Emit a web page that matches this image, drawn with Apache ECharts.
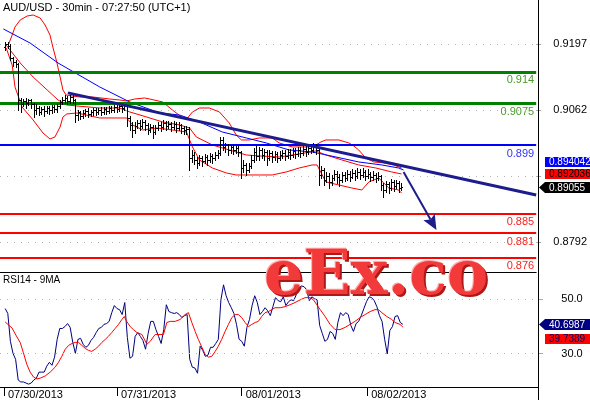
<!DOCTYPE html>
<html><head><meta charset="utf-8">
<script src="https://cdn.jsdelivr.net/npm/echarts@6/dist/echarts.min.js"></script>
<style>html,body{margin:0;padding:0;background:#fff}#c{width:590px;height:400px}</style>
</head><body><div id="c"></div>
<script>
const titleText = 'AUD/USD - 30min - 07:27:50 (UTC+1)';
const rsiTitle = 'RSI14 - 9MA';
// OHLC bars: [open, high, low, close], one per 30-min bar
const ohlc = [
[0.91909,0.92011,0.91847,0.91970],[0.91970,0.92011,0.91888,0.91929],[0.91929,0.91970,0.91643,0.91684],[0.91684,0.91704,0.91520,0.91602],
[0.91602,0.91643,0.91500,0.91561],[0.91561,0.91582,0.90620,0.90825],[0.90825,0.90866,0.90580,0.90743],[0.90743,0.90845,0.90702,0.90805],
[0.90805,0.90866,0.90661,0.90764],[0.90764,0.90845,0.90723,0.90825],[0.90825,0.90845,0.90661,0.90743],[0.90743,0.90764,0.90477,0.90620],
[0.90620,0.90743,0.90539,0.90661],[0.90661,0.90702,0.90518,0.90580],[0.90580,0.90682,0.90539,0.90641],[0.90641,0.90702,0.90498,0.90600],
[0.90600,0.90702,0.90559,0.90661],[0.90661,0.90702,0.90539,0.90620],[0.90620,0.90723,0.90559,0.90682],[0.90682,0.90723,0.90580,0.90641],
[0.90641,0.90743,0.90580,0.90702],[0.90702,0.90825,0.90661,0.90784],[0.90784,0.90886,0.90743,0.90825],[0.90825,0.90927,0.90764,0.90866],
[0.90866,0.90907,0.90743,0.90805],[0.90805,0.90927,0.90764,0.90886],[0.90886,0.90947,0.90764,0.90825],[0.90825,0.90845,0.90375,0.90518],
[0.90518,0.90620,0.90416,0.90580],[0.90580,0.90600,0.90436,0.90498],[0.90498,0.90620,0.90457,0.90559],[0.90559,0.90641,0.90498,0.90600],
[0.90600,0.90661,0.90477,0.90539],[0.90539,0.90620,0.90498,0.90580],[0.90580,0.90661,0.90518,0.90620],[0.90620,0.90661,0.90518,0.90580],
[0.90580,0.90661,0.90539,0.90620],[0.90620,0.90682,0.90518,0.90580],[0.90580,0.90682,0.90539,0.90641],[0.90641,0.90682,0.90539,0.90600],
[0.90600,0.90702,0.90559,0.90661],[0.90661,0.90702,0.90580,0.90620],[0.90620,0.90723,0.90580,0.90682],[0.90682,0.90723,0.90580,0.90641],
[0.90641,0.90743,0.90600,0.90702],[0.90702,0.90743,0.90580,0.90661],[0.90661,0.90743,0.90620,0.90702],[0.90702,0.90723,0.90293,0.90457],
[0.90457,0.90498,0.90211,0.90314],[0.90314,0.90375,0.90068,0.90211],[0.90211,0.90375,0.90150,0.90293],[0.90293,0.90416,0.90252,0.90355],
[0.90355,0.90416,0.90211,0.90293],[0.90293,0.90436,0.90252,0.90375],[0.90375,0.90416,0.90211,0.90314],[0.90314,0.90355,0.90130,0.90211],
[0.90211,0.90334,0.90171,0.90273],[0.90273,0.90314,0.90048,0.90171],[0.90171,0.90314,0.90130,0.90252],[0.90252,0.90375,0.90211,0.90314],
[0.90314,0.90375,0.90191,0.90273],[0.90273,0.90416,0.90232,0.90355],[0.90355,0.90396,0.90211,0.90293],[0.90293,0.90396,0.90252,0.90334],
[0.90334,0.90375,0.90191,0.90273],[0.90273,0.90396,0.90232,0.90334],[0.90334,0.90375,0.90171,0.90252],[0.90252,0.90375,0.90211,0.90314],
[0.90314,0.90334,0.90150,0.90252],[0.90252,0.90293,0.90130,0.90211],[0.90211,0.90293,0.90130,0.90232],[0.90232,0.90273,0.89393,0.89639],
[0.89639,0.89802,0.89557,0.89700],[0.89700,0.89762,0.89516,0.89598],[0.89598,0.89659,0.89434,0.89537],[0.89537,0.89700,0.89496,0.89639],
[0.89639,0.89680,0.89475,0.89578],[0.89578,0.89721,0.89537,0.89659],[0.89659,0.89700,0.89496,0.89598],[0.89598,0.89741,0.89557,0.89680],
[0.89680,0.89721,0.89537,0.89639],[0.89639,0.89762,0.89598,0.89700],[0.89700,0.89802,0.89639,0.89741],[0.89741,0.90068,0.89700,0.90007],
[0.90007,0.90068,0.89802,0.89864],[0.89864,0.89946,0.89762,0.89905],[0.89905,0.89925,0.89700,0.89802],[0.89802,0.89905,0.89741,0.89864],
[0.89864,0.89905,0.89721,0.89802],[0.89802,0.89884,0.89741,0.89843],[0.89843,0.89884,0.89680,0.89762],[0.89762,0.89782,0.89230,0.89434],
[0.89434,0.89598,0.89353,0.89496],[0.89496,0.89537,0.89291,0.89393],[0.89393,0.89537,0.89353,0.89475],[0.89475,0.89700,0.89434,0.89598],
[0.89598,0.89843,0.89557,0.89762],[0.89762,0.89884,0.89598,0.89680],[0.89680,0.89864,0.89598,0.89802],[0.89802,0.89843,0.89639,0.89700],
[0.89700,0.89823,0.89598,0.89762],[0.89762,0.89802,0.89496,0.89639],[0.89639,0.89802,0.89598,0.89741],[0.89741,0.89782,0.89557,0.89659],
[0.89659,0.89782,0.89598,0.89721],[0.89721,0.89762,0.89557,0.89639],[0.89639,0.89782,0.89598,0.89700],[0.89700,0.89802,0.89639,0.89741],
[0.89741,0.89802,0.89598,0.89680],[0.89680,0.89823,0.89639,0.89762],[0.89762,0.89823,0.89618,0.89700],[0.89700,0.89843,0.89659,0.89782],
[0.89782,0.89843,0.89639,0.89721],[0.89721,0.89864,0.89680,0.89802],[0.89802,0.89864,0.89659,0.89741],[0.89741,0.89884,0.89700,0.89823],
[0.89823,0.89884,0.89680,0.89762],[0.89762,0.89905,0.89721,0.89843],[0.89843,0.89925,0.89741,0.89802],[0.89802,0.89946,0.89762,0.89884],
[0.89884,0.89925,0.89721,0.89802],[0.89802,0.89823,0.89087,0.89291],[0.89291,0.89475,0.89230,0.89393],[0.89393,0.89434,0.89087,0.89189],
[0.89189,0.89353,0.89148,0.89271],[0.89271,0.89332,0.89025,0.89148],[0.89148,0.89291,0.89087,0.89230],[0.89230,0.89393,0.89189,0.89312],
[0.89312,0.89373,0.89128,0.89250],[0.89250,0.89312,0.89066,0.89189],[0.89189,0.89353,0.89148,0.89291],[0.89291,0.89353,0.89169,0.89230],
[0.89230,0.89393,0.89189,0.89312],[0.89312,0.89373,0.89169,0.89250],[0.89250,0.89414,0.89230,0.89332],[0.89332,0.89393,0.89189,0.89271],
[0.89271,0.89434,0.89230,0.89353],[0.89353,0.89414,0.89209,0.89291],[0.89291,0.89434,0.89250,0.89353],[0.89353,0.89393,0.89189,0.89271],
[0.89271,0.89414,0.89230,0.89312],[0.89312,0.89353,0.89169,0.89250],[0.89250,0.89373,0.89189,0.89291],[0.89291,0.89332,0.89148,0.89230],
[0.89230,0.89353,0.89189,0.89271],[0.89271,0.89291,0.88984,0.89087],[0.89087,0.89128,0.88841,0.88984],[0.88984,0.89169,0.88944,0.89107],
[0.89107,0.89148,0.88923,0.89025],[0.89025,0.89209,0.88984,0.89148],[0.89148,0.89189,0.88964,0.89066],[0.89066,0.89189,0.89025,0.89128],
[0.89128,0.89169,0.88944,0.89025],[0.89025,0.89128,0.88984,0.89055]
];
// Bollinger bands and blue moving average, read at [bar index, price]
const bbUpper = [[1.2,0.9195],[2.7,0.92154],[3.8,0.92318],[5.8,0.92461],[8.5,0.92543],[10.8,0.92563],[13.5,0.92502],[15.4,0.92359],[17.3,0.92154],[18.5,0.91888],[20,0.91582],[21.2,0.91295],[22.3,0.9103],[23.5,0.90927],[25.8,0.90907],[28.8,0.90886],[33.8,0.90886],[40.4,0.90845],[44.2,0.90825],[46.9,0.90805],[50,0.90845],[53.8,0.90866],[55.8,0.90845],[60.8,0.90784],[64.6,0.9062],[68.5,0.90457],[70.4,0.90457],[72.3,0.9058],[75,0.90661],[78.8,0.90661],[82.7,0.9058],[86.5,0.90355],[89.2,0.90109],[91.2,0.90007],[94.2,0.90007],[98.1,0.90048],[103.1,0.90048],[105.8,0.89946],[110.8,0.89864],[117.3,0.89864],[120,0.89905],[121.9,0.89966],[123.8,0.90007],[128.8,0.90007],[132.7,0.89946],[134.6,0.89884],[136.5,0.89802],[139.2,0.89639],[142.3,0.89557],[146.2,0.89537],[150,0.89496],[153,0.89434]];
const bbMiddle = [[0,0.9197],[1.9,0.91847],[5.8,0.91582],[10.8,0.91295],[16.2,0.9103],[20.4,0.90825],[23.8,0.90723],[27.7,0.90702],[36.5,0.90661],[44.2,0.90661],[48.1,0.9058],[54.6,0.90477],[60.8,0.90375],[67.3,0.90314],[71.2,0.90252],[73.8,0.90068],[80,0.89905],[86.5,0.89802],[93.1,0.897],[98.1,0.8968],[105.8,0.89659],[113.5,0.89721],[120,0.89782],[123.8,0.897],[130,0.89598],[136.5,0.89496],[143.1,0.89434],[149.2,0.89353],[153,0.89312]];
const bbLower = [[0.4,0.91888],[2.7,0.91541],[3.8,0.91091],[6.5,0.90682],[10.8,0.90416],[14.6,0.9015],[17.3,0.90027],[19.2,0.90068],[21.2,0.90273],[22.3,0.90477],[23.8,0.90539],[27.7,0.90559],[36.5,0.90457],[46.9,0.90457],[49.2,0.90314],[53.1,0.90211],[58.5,0.90252],[64.6,0.90211],[70,0.90171],[72.3,0.89864],[75,0.89598],[80,0.89434],[85.4,0.89332],[89.2,0.89291],[94.2,0.89291],[98.1,0.89291],[103.1,0.89291],[108.5,0.89353],[113.5,0.89434],[118.5,0.89496],[120.4,0.89496],[123.8,0.89148],[128.8,0.89087],[133.8,0.89025],[137.7,0.88984],[140.4,0.89148],[144.2,0.8923],[148.1,0.89025],[151.9,0.88984],[153,0.88923]];
const maBlue = [[-0.7,0.92277],[9.6,0.91991],[20.4,0.91582],[36.5,0.91091],[48.1,0.90784],[59.6,0.90559],[67.3,0.90518],[75,0.90375],[83.8,0.90171],[93.1,0.90048],[100.8,0.89946],[109.6,0.89802],[118.5,0.89762],[127.7,0.89659],[136.5,0.89557],[145.4,0.89496],[151.9,0.89434],[153.8,0.89393]];
// horizontal levels
const levelValues = [0.914, 0.9075, 0.899, 0.885, 0.881, 0.876];
const levelLabels = ['0.914', '0.9075', '0.899', '0.885', '0.881', '0.876'];
// trend line and projection arrow [bar index, price]
const trendLine = [[24.2, 0.9097], [205, 0.8888]];
const arrowLine = [[153.8, 0.89353], [166.5, 0.88166]];
// RSI(14) per bar and its 9-period MA read at [bar index, value]
const rsi = [46.5,44.7,34.5,30.1,27.9,20.3,19.6,19.6,19.2,18.8,19.2,20.3,21.0,23.2,23.2,23.2,25.4,26.8,25.7,28.7,
35.2,39.2,39.2,39.9,41.0,39.6,34.1,30.1,35.2,35.6,33.4,32.3,33.0,34.8,35.9,37.7,39.2,39.6,40.7,41.0,
41.8,45.0,47.6,46.5,46.1,44.3,48.7,35.9,28.3,29.0,36.3,37.7,36.3,34.8,31.6,37.4,41.8,41.8,38.8,36.3,
33.7,38.8,47.9,45.4,45.0,44.7,45.0,44.3,43.2,43.9,44.3,27.9,25.0,24.7,22.8,32.7,31.2,29.0,29.4,32.3,
32.3,33.7,35.2,49.7,55.2,51.2,48.7,46.8,44.7,40.7,35.2,34.5,32.7,39.6,42.5,47.6,51.2,48.7,44.3,45.4,
46.8,45.7,43.9,47.2,50.5,49.4,49.0,50.8,47.6,49.0,49.7,49.4,51.6,54.1,54.8,54.5,53.4,49.4,50.8,50.1,
49.7,40.3,37.4,34.5,35.2,38.1,37.4,35.2,41.4,45.0,43.9,45.0,44.3,40.3,38.1,41.0,41.8,43.9,46.5,49.0,
50.8,50.5,49.4,47.2,43.9,41.8,35.2,29.9,38.5,39.9,43.6,43.9,41.4,40.6987];
const rsiMA = [[0,41.6],[0.7,41.2],[2.6,39.4],[4.5,36.1],[5.8,34.0],[7.0,30.3],[8.3,26.1],[9.6,23.2],[10.9,21.4],[12.2,20.7],[13.5,21.0],[15.4,21.8],[17.3,23.2],[19.2,25.0],[20.5,26.8],[21.8,29.0],[23.1,31.6],[24.4,33.0],[25.7,33.7],[26.9,34.1],[28.2,34.1],[29.5,33.0],[30.8,31.9],[32.0,31.2],[33.3,30.8],[34.6,31.6],[35.9,32.7],[37.2,34.1],[38.5,35.2],[39.7,36.3],[41.0,37.7],[42.3,39.2],[43.6,40.7],[44.9,42.5],[45.8,43.6],[46.8,41.7],[48.1,39.9],[49.3,38.8],[50.7,37.7],[52.6,37.0],[54.5,33.4],[55.8,34.5],[57.7,37.0],[59.6,37.0],[60.9,37.0],[62.2,41.4],[63.5,41.8],[65.4,41.8],[67.3,42.5],[69.2,44.3],[70.5,45.0],[71.8,41.4],[73.1,38.1],[74.3,35.2],[75.7,32.3],[76.9,29.7],[78.2,28.7],[79.5,29.0],[80.8,30.8],[82.0,32.7],[83.3,35.2],[84.6,38.1],[85.9,40.7],[87.2,43.2],[88.5,44.3],[89.7,44.3],[91.0,43.2],[92.3,41.4],[93.6,39.9],[94.9,40.7],[96.2,41.4],[97.4,41.8],[98.7,43.6],[100.0,45.0],[101.3,45.4],[101.9,46.1],[103.8,46.8],[105.8,46.8],[107.7,47.2],[109.6,47.9],[111.5,48.7],[113.5,49.7],[115.4,50.5],[117.3,50.5],[118.6,49.7],[119.9,47.9],[121.2,46.1],[123.1,43.6],[125.0,40.7],[126.9,38.8],[128.8,38.8],[130.8,39.6],[132.7,40.7],[134.6,41.8],[136.5,43.2],[138.5,44.3],[140.4,45.4],[142.3,46.1],[143.6,46.1],[144.9,45.0],[146.8,43.6],[148.7,42.5],[150.0,41.4],[151.9,40.7],[153,39.7389]];
// axes
const priceTicks = [0.9197, 0.9062, 0.8927, 0.8792];
const priceTickLabels = [0.9197, 0.9062, 0.8792];
const rsiTicks = [50, 30];
const dateTicks = [-0.5, 43, 91, 139.3];
const dateLabels = ['07/30/2013', '07/31/2013', '08/01/2013', '08/02/2013'];
const lastPriceLabels = ['0.894042', '0.892036', '0.89055'];
const lastRsiLabels = ['40.6987', '39.7389'];
const watermarkText = 'eEx.co';

const FONT = "'Liberation Sans', Arial, sans-serif";
const NARROW = "'Liberation Sans Narrow', 'Liberation Sans', Arial, sans-serif";
const WM_FONT = "bold 62px 'DejaVu Serif', serif";
const chart = echarts.init(document.getElementById('c'), null, {renderer: 'canvas'});
const levelColors = ['#008000', '#008000', '#0000ff', '#ff0000', '#ff0000', '#ff0000'];
const levelTextColors = ['#4a9a2a', '#4a9a2a', '#3333ff', '#ff2020', '#ff2020', '#ff2020'];
const NAVY = '#1c1c8c';
const XMIN = -2, XMAX = 205;

const option = {
  animation: false,
  backgroundColor: '#ffffff',
  grid: [
    {left: 0, top: 0, width: 538, height: 272},
    {left: 0, top: 272, width: 538, height: 116}
  ],
  xAxis: [
    {type: 'value', gridIndex: 0, min: XMIN, max: XMAX, axisLine: {show: true, onZero: false, lineStyle: {color: '#000', width: 1}}, axisTick: {show: false}, axisLabel: {show: false}, splitLine: {show: false}},
    {type: 'value', gridIndex: 1, min: XMIN, max: XMAX,
      axisLine: {show: true, onZero: false, lineStyle: {color: '#000', width: 1}},
      axisTick: {show: true, customValues: dateTicks, length: 9, lineStyle: {color: '#000'}},
      axisLabel: {show: true, customValues: dateTicks, align: 'left', margin: 2, padding: [0, 0, 0, 4], fontFamily: FONT, fontSize: 11, color: '#000',
        formatter: v => { const k = dateTicks.indexOf(v); return k >= 0 ? dateLabels[k] : ''; }},
      splitLine: {show: false}}
  ],
  yAxis: [
    {type: 'value', gridIndex: 0, position: 'right', min: 0.873065, max: 0.9287,
      axisLine: {show: false, onZero: false}, splitLine: {show: false},
      axisTick: {show: true, customValues: priceTicks, length: 5, lineStyle: {color: '#aaa'}},
      axisLabel: {show: true, customValues: priceTickLabels, align: 'center', margin: 34, fontFamily: FONT, fontSize: 11, color: '#000', formatter: v => v.toFixed(4)}},
    {type: 'value', gridIndex: 1, position: 'right', min: 17.75, max: 59.9,
      axisLine: {show: false, onZero: false}, splitLine: {show: false},
      axisTick: {show: true, customValues: rsiTicks, length: 5, lineStyle: {color: '#aaa'}},
      axisLabel: {show: true, customValues: rsiTicks, align: 'center', margin: 34, fontFamily: FONT, fontSize: 11, color: '#000', formatter: v => v.toFixed(1)}}
  ],
  series: [
    {
      type: 'line', xAxisIndex: 0, yAxisIndex: 0, data: bbUpper, showSymbol: false, symbol: 'none',
      lineStyle: {color: '#ff0000', width: 1}, z: 3, silent: true,
      markLine: {silent: true, symbol: 'none', animation: false, precision: 6, label: {show: false},
        lineStyle: {color: '#b4b4b4', type: [1, 6], width: 1},
        data: priceTicks.map(v => ({yAxis: v}))}
    },
    {
      type: 'line', xAxisIndex: 0, yAxisIndex: 0, data: bbMiddle, showSymbol: false, symbol: 'none',
      lineStyle: {color: '#ff0000', width: 1}, z: 3, silent: true
    },
    {
      type: 'line', xAxisIndex: 0, yAxisIndex: 0, data: bbLower, showSymbol: false, symbol: 'none',
      lineStyle: {color: '#ff0000', width: 1}, z: 3, silent: true
    },
    {
      type: 'line', xAxisIndex: 0, yAxisIndex: 0, data: maBlue, showSymbol: false, symbol: 'none',
      lineStyle: {color: '#0000ff', width: 1}, z: 3, silent: true,
      markLine: {silent: true, symbol: 'none', animation: false, precision: 6, z: 4,
        data: levelValues.map((v, k) => ({
          yAxis: v,
          lineStyle: {color: levelColors[k], width: k < 2 ? 3 : 2, type: 'solid'},
          label: {show: true, position: 'insideEndBottom', formatter: levelLabels[k], color: levelTextColors[k], fontFamily: FONT, fontSize: 11, distance: [2, 3]}
        }))}
    },
    {
      type: 'custom', xAxisIndex: 0, yAxisIndex: 0, z: 5, silent: true, clip: true,
      data: ohlc.map((d, i) => [i, d[0], d[1], d[2], d[3]]),
      encode: {x: 0, y: [1, 2, 3, 4]},
      renderItem: (params, api) => {
        const i = api.value(0);
        const po = api.coord([i, api.value(1)]);
        const ph = api.coord([i, api.value(2)]);
        const pl = api.coord([i, api.value(3)]);
        const pc = api.coord([i, api.value(4)]);
        const x = Math.round(ph[0]) + 0.5;
        const yo = Math.round(po[1]) + 0.5, yc = Math.round(pc[1]) + 0.5;
        const st = {stroke: '#000', lineWidth: 1};
        return {type: 'group', children: [
          {type: 'line', shape: {x1: x, y1: Math.round(ph[1]), x2: x, y2: Math.round(pl[1]) + 1}, style: st},
          {type: 'line', shape: {x1: x - 1.5, y1: yo, x2: x, y2: yo}, style: st},
          {type: 'line', shape: {x1: x, y1: yc, x2: x + 1.5, y2: yc}, style: st}
        ]};
      }
    },
    {
      type: 'line', xAxisIndex: 0, yAxisIndex: 0, data: trendLine, showSymbol: false, symbol: 'none',
      lineStyle: {color: NAVY, width: 3}, z: 6, silent: true
    },
    {
      type: 'custom', xAxisIndex: 0, yAxisIndex: 0, z: 7, silent: true, clip: false,
      data: [[arrowLine[0][0], arrowLine[0][1], arrowLine[1][0], arrowLine[1][1]]],
      encode: {x: [0, 2], y: [1, 3]},
      renderItem: (params, api) => {
        const a = api.coord([api.value(0), api.value(1)]);
        const b = api.coord([api.value(2), api.value(3)]);
        const dx = b[0] - a[0], dy = b[1] - a[1], L = Math.hypot(dx, dy);
        const ux = dx / L, uy = dy / L, nx = -uy, ny = ux;
        const len = 15, hw = 6.5;
        const bx = b[0] - ux * len, by = b[1] - uy * len;
        const mx = bx + ux * 3, my = by + uy * 3;
        return {type: 'group', children: [
          {type: 'line', shape: {x1: a[0], y1: a[1], x2: mx, y2: my}, style: {stroke: NAVY, lineWidth: 2}},
          {type: 'polygon', shape: {points: [[b[0], b[1]], [bx + nx * hw, by + ny * hw], [mx, my], [bx - nx * hw, by - ny * hw]]}, style: {fill: NAVY}}
        ]};
      }
    },
    {
      type: 'line', xAxisIndex: 1, yAxisIndex: 1, data: rsi.map((v, i) => [i, v]), showSymbol: false, symbol: 'none',
      lineStyle: {color: '#000080', width: 1}, z: 4, silent: true,
      markLine: {silent: true, symbol: 'none', animation: false, precision: 4, label: {show: false},
        lineStyle: {color: '#b4b4b4', type: [1, 6], width: 1},
        data: rsiTicks.map(v => ({yAxis: v}))}
    },
    {
      type: 'line', xAxisIndex: 1, yAxisIndex: 1, data: rsiMA, showSymbol: false, symbol: 'none',
      lineStyle: {color: '#ff0000', width: 1}, z: 4, silent: true
    }
  ],
  graphic: [
    {type: 'line', shape: {x1: 538.5, y1: 0, x2: 538.5, y2: 400}, style: {stroke: '#000', lineWidth: 1}, z: 50},
    {type: 'text', left: 3, top: 2, style: {text: titleText, font: '11px ' + NARROW, fill: '#000'}, z: 50},
    {type: 'text', left: 3, top: 275, style: {text: rsiTitle, font: '10px ' + FONT, fill: '#000'}, z: 50},
    // last value tags, price panel
    {type: 'rect', shape: {x: 545, y: 157, width: 45, height: 10}, style: {fill: '#0000ff'}, z: 60},
    {type: 'text', x: 549, y: 162.5, style: {text: lastPriceLabels[0], font: '10px ' + FONT, fill: '#fff', verticalAlign: 'middle'}, z: 61},
    {type: 'rect', shape: {x: 545, y: 169, width: 45, height: 10}, style: {fill: '#ff0000'}, z: 60},
    {type: 'text', x: 549, y: 174.5, style: {text: lastPriceLabels[1], font: '10px ' + FONT, fill: '#000', verticalAlign: 'middle'}, z: 61},
    {type: 'polygon', shape: {points: [[539, 187.5], [545, 182], [590, 182], [590, 193], [545, 193]]}, style: {fill: '#000'}, z: 60},
    {type: 'text', x: 549, y: 188, style: {text: lastPriceLabels[2], font: '10px ' + FONT, fill: '#fff', verticalAlign: 'middle'}, z: 61},
    // last value tags, RSI panel
    {type: 'polygon', shape: {points: [[539, 324.5], [545, 319], [590, 319], [590, 330], [545, 330]]}, style: {fill: '#000080'}, z: 60},
    {type: 'text', x: 549, y: 325, style: {text: lastRsiLabels[0], font: '10px ' + FONT, fill: '#fff', verticalAlign: 'middle'}, z: 61},
    {type: 'rect', shape: {x: 545, y: 334, width: 45, height: 10}, style: {fill: '#ff0000'}, z: 60},
    {type: 'text', x: 549, y: 339.5, style: {text: lastRsiLabels[1], font: '10px ' + FONT, fill: '#000060', verticalAlign: 'middle'}, z: 61},
    // watermark, layered for a bevelled look
    {type: 'text', x: 266, y: 249, z: 98, style: {text: watermarkText, font: WM_FONT, fill: '#b01818',
      shadowColor: 'rgba(120,0,0,0.35)', shadowBlur: 3, shadowOffsetX: 1, shadowOffsetY: 1}},
    {type: 'text', x: 263, y: 246, z: 99, style: {text: watermarkText, font: WM_FONT, fill: '#ffa8a8'}},
    {type: 'text', x: 264, y: 247, z: 100, style: {text: watermarkText, font: WM_FONT, fill: '#f23a3a'}}
  ]
};
chart.setOption(option);
</script>
</body></html>
